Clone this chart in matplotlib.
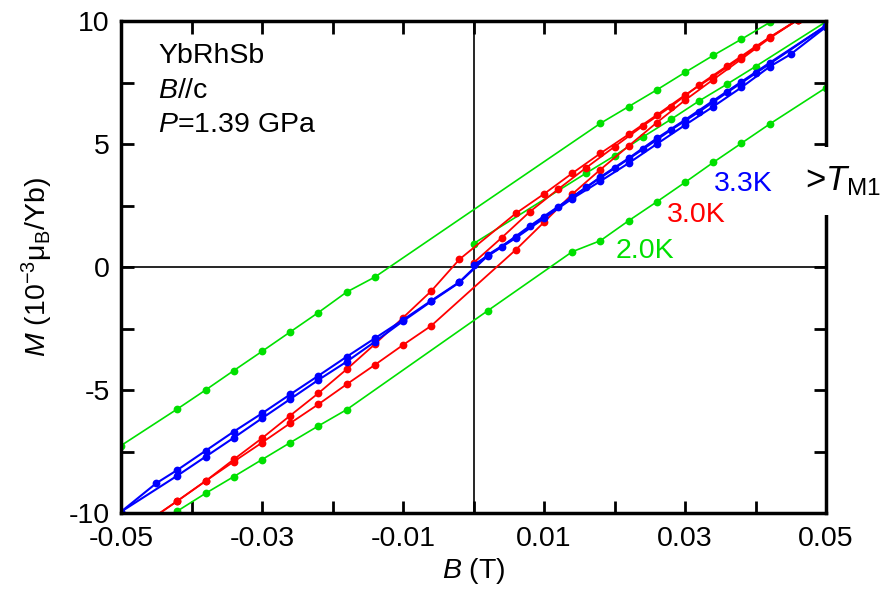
import matplotlib
matplotlib.use("Agg")
import matplotlib.pyplot as plt
from matplotlib.ticker import MultipleLocator, FixedLocator

plt.rcParams['font.family'] = ['Liberation Sans', 'DejaVu Sans']
plt.rcParams['mathtext.fontset'] = 'custom'
plt.rcParams['mathtext.rm'] = 'Liberation Sans'
plt.rcParams['mathtext.it'] = 'Liberation Sans:italic'
plt.rcParams['mathtext.bf'] = 'Liberation Sans:bold'

# ---------------- data (B in T, M in 10^-3 muB/Yb) ----------------
# 2.0 K
g_down_B = [-0.05, -0.042, -0.038, -0.034, -0.030, -0.026, -0.022, -0.018, -0.014,
            0.018, 0.022, 0.026, 0.030, 0.034, 0.038, 0.042]
g_down_M = [-7.26, -5.77, -5.00, -4.21, -3.43, -2.64, -1.85, -1.02, -0.41,
            5.84, 6.52, 7.20, 7.91, 8.60, 9.26, 9.94]
g_up_B = [-0.046, -0.042, -0.038, -0.034, -0.030, -0.026, -0.022, -0.018, 0.002,
          0.014, 0.018, 0.022, 0.026, 0.030, 0.034, 0.038, 0.042, 0.05]
g_up_M = [-10.7, -9.92, -9.20, -8.52, -7.83, -7.14, -6.46, -5.80, -1.78,
          0.62, 1.07, 1.88, 2.65, 3.44, 4.25, 5.03, 5.81, 7.29]
g_vir_B = [0.0, 0.016, 0.020, 0.024, 0.028, 0.032, 0.036, 0.040, 0.05]
g_vir_M = [0.95, 3.82, 4.52, 5.28, 6.00, 6.75, 7.44, 8.15, 9.97]

# 3.0 K
r_down_B = [-0.046, -0.042, -0.038, -0.034, -0.030, -0.026, -0.022, -0.018, -0.014,
            -0.010, -0.006, -0.002, 0.006, 0.010, 0.014, 0.018, 0.022,
            0.026, 0.030, 0.034, 0.038, 0.042, 0.046]
r_down_M = [-10.3, -9.51, -8.70, -7.82, -6.96, -6.04, -5.13, -4.16, -3.14,
            -2.06, -0.98, 0.31, 2.18, 2.97, 3.81, 4.62, 5.39,
            6.18, 6.99, 7.74, 8.52, 9.34, 10.05]
r_up_B = [-0.046, -0.042, -0.038, -0.034, -0.030, -0.026, -0.022, -0.018, -0.014,
          -0.010, -0.006, 0.006, 0.010, 0.014, 0.018, 0.022, 0.026, 0.030,
          0.034, 0.038, 0.042, 0.046]
r_up_M = [-10.3, -9.51, -8.70, -7.91, -7.14, -6.35, -5.58, -4.77, -3.98,
          -3.17, -2.39, 0.70, 1.82, 2.96, 3.96, 4.92, 5.87, 6.78,
          7.62, 8.45, 9.30, 10.05]
r_vir_B = [0.0, 0.004, 0.008, 0.012, 0.016, 0.020, 0.024, 0.028, 0.032, 0.036, 0.040, 0.046]
r_vir_M = [0.17, 1.19, 2.25, 3.16, 4.04, 4.89, 5.73, 6.52, 7.40, 8.18, 8.96, 10.05]

# 3.3 K
b_down_B = [-0.05, -0.045, -0.042, -0.038, -0.034, -0.030, -0.026, -0.022, -0.018,
            -0.014, -0.010, -0.006, -0.002, 0.002, 0.006, 0.010, 0.014, 0.018,
            0.022, 0.026, 0.030, 0.034, 0.038, 0.042, 0.05]
b_down_M = [-9.95, -8.79, -8.25, -7.47, -6.69, -5.95, -5.18, -4.42, -3.65,
            -2.90, -2.15, -1.37, -0.61, 0.49, 1.21, 2.02, 2.83, 3.66,
            4.42, 5.23, 5.98, 6.76, 7.53, 8.30, 9.81]
b_up_B = [-0.05, -0.042, -0.038, -0.034, -0.030, -0.026, -0.022, -0.018, -0.014,
          -0.010, -0.006, -0.002, 0.002, 0.006, 0.010, 0.014, 0.018, 0.022,
          0.026, 0.030, 0.034, 0.038, 0.042, 0.045, 0.05]
b_up_M = [-9.95, -8.48, -7.71, -6.94, -6.15, -5.37, -4.59, -3.85, -3.04,
          -2.20, -1.40, -0.63, 0.45, 1.18, 1.98, 2.78, 3.49, 4.22,
          5.00, 5.77, 6.52, 7.30, 8.14, 8.65, 9.76]
b_vir_B = [0.0, 0.004, 0.008, 0.012, 0.016, 0.020, 0.024, 0.028, 0.032, 0.036, 0.040, 0.05]
b_vir_M = [0.08, 0.83, 1.67, 2.45, 3.24, 4.01, 4.78, 5.57, 6.31, 7.10, 7.87, 9.81]

temps = ["2.0K", "3.0K", "3.3K"]
colors = {"2.0K": "#00e000", "3.0K": "#ff0000", "3.3K": "#0000ff"}

# ---------------- figure ----------------
fig = plt.figure(figsize=(8.94, 6.05), dpi=100)
ax = fig.add_axes([121/894, 1-513/605, 705/894, 492/605])

ax.axhline(0, color='black', lw=1.2, zorder=1)
ax.axvline(0, color='black', lw=1.2, zorder=1)

series = [
    (g_down_B, g_down_M, "2.0K", 1.2), (g_up_B, g_up_M, "2.0K", 1.2), (g_vir_B, g_vir_M, "2.0K", 1.2),
    (r_down_B, r_down_M, "3.0K", 1.3), (r_up_B, r_up_M, "3.0K", 1.3), (r_vir_B, r_vir_M, "3.0K", 1.3),
    (b_down_B, b_down_M, "3.3K", 1.5), (b_up_B, b_up_M, "3.3K", 1.5), (b_vir_B, b_vir_M, "3.3K", 1.5),
]
for xb, ym, t, lw in series:
    ax.plot(xb, ym, '-o', color=colors[t], lw=lw, ms=5.6, mew=0, zorder=2)

ax.set_xlim(-0.05, 0.05)
ax.set_ylim(-10, 10)

ax.xaxis.set_major_locator(FixedLocator([-0.05, -0.03, -0.01, 0.01, 0.03, 0.05]))
ax.xaxis.set_minor_locator(FixedLocator([-0.04, -0.02, 0.0, 0.02, 0.04]))
ax.yaxis.set_major_locator(MultipleLocator(5))
ax.yaxis.set_minor_locator(MultipleLocator(2.5))
ax.set_xticklabels(["-0.05", "-0.03", "-0.01", "0.01", "0.03", "0.05"])
ax.set_yticks([-10, -5, 0, 5, 10])
ax.set_yticklabels(["-10", "-5", "0", "5", "10"])

FS = 20.5
ax.tick_params(which='both', direction='in', top=True, right=True,
               length=9, width=2, labelsize=FS)
ax.tick_params(axis='x', pad=9)
ax.tick_params(axis='y', pad=8)
for s in ax.spines.values():
    s.set_linewidth(2.5)

ax.set_xlabel(r'$B$ (T)', fontsize=FS, labelpad=3)
ax.set_ylabel(r'$M$ (10$^{-3}$μ$_{\mathrm{B}}$/Yb)', fontsize=FS, labelpad=10)

def px2ax(x, y):
    return (x - 121) / 705, (513 - y) / 492

ax.text(*px2ax(158, 63), 'YbRhSb', transform=ax.transAxes, fontsize=FS, va='baseline', ha='left')
ax.text(*px2ax(158, 98), r'$B$//c', transform=ax.transAxes, fontsize=FS, va='baseline', ha='left')
ax.text(*px2ax(158, 132), r'$P$=1.39 GPa', transform=ax.transAxes, fontsize=FS, va='baseline', ha='left')

for t, (x, y) in zip(temps, [(616, 258), (667, 222), (714, 191)]):
    ax.text(*px2ax(x, y), t, transform=ax.transAxes, color=colors[t],
            fontsize=FS, ha='left', va='baseline')

ax.text(*px2ax(805, 190), r'>$T_{\mathrm{M1}}$', transform=ax.transAxes, fontsize=25,
        ha='left', va='baseline', clip_on=False, zorder=5,
        bbox=dict(boxstyle='square,pad=0.5', fc='white', ec='none'))

fig.savefig('out.png', dpi=100)
